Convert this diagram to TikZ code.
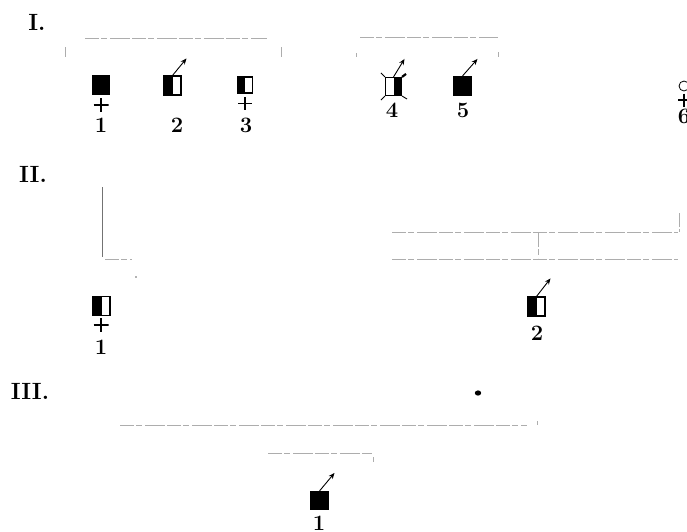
\documentclass[tikz,border=0pt]{standalone}
\usetikzlibrary{arrows.meta}
\begin{document}
\begin{tikzpicture}[x=1pt,y=-1pt,
  sqbox/.style={draw, line width=1.1pt, minimum width=17pt, minimum height=19pt, inner sep=0pt},
  full/.style={sqbox, fill=black},
  halfL/.style={sqbox, path picture={\fill[black] (path picture bounding box.south west) rectangle (path picture bounding box.north);}},
  halfR/.style={sqbox, path picture={\fill[black] (path picture bounding box.south east) rectangle (path picture bounding box.north);}},
  plus/.style={minimum width=15pt, minimum height=14pt, inner sep=0pt,
    path picture={\draw[line width=1.3pt] (path picture bounding box.west) -- (path picture bounding box.east)
      (path picture bounding box.north) -- (path picture bounding box.south);}},
  fem/.style={circle, draw, line width=0.8pt, minimum size=10pt, inner sep=0pt},
  num/.style={font=\fontsize{22}{22}\selectfont\bfseries, inner sep=0pt},
  gen/.style={font=\fontsize{23.5}{23.5}\selectfont\bfseries, inner sep=0pt},
  ln/.style={draw=black!32, line width=0.7pt, dash pattern=on 14pt off 2pt on 6pt off 3pt on 20pt off 2pt},
  arr/.style={-{Stealth[length=6pt,width=5pt]}, line width=0.9pt},
  whisk/.style={line width=0.9pt},
]
\useasboundingbox (0,0) rectangle (687,531);

% generation labels
\node[gen] (gI)   at (37,22)  {I.};
\node[gen] (gII)  at (33,174) {II.};
\node[gen] (gIII) at (30,391) {III.};

% ---------- generation I ----------
\draw[ln] (85,38) -- (267,38);
\draw[ln] (65,47) -- (65,57);
\draw[ln] (281,47) -- (281,57);
\draw[ln] (360,37) -- (498,37);
\draw[ln] (356,53) -- (356,57);
\draw[ln] (498,52) -- (498,57);

\node[full] (a1) at (101,85) {};
\node[plus] (a1p) at (101,105) {};
\node[num] (a1n) at (101,125) {1};

\node[halfL] (a2) at (172.5,85.5) {};
\draw[arr] (a2.north) -- ++(14,-17);
\node[num] (a2n) at (177,125) {2};

\node[halfL, minimum width=15.5pt, minimum height=16pt] (a3) at (245,85) {};
\node[plus, minimum width=14pt, minimum height=13pt] (a3p) at (245,103.5) {};
\node[num] (a3n) at (246,125) {3};

\node[halfR, minimum width=16pt, minimum height=18pt] (a4) at (393.5,86.5) {};
\draw[whisk] (a4.north west) -- ++(-4,-4);
\draw[whisk] (a4.south west) -- ++(-4,4);
\draw[whisk] (a4.south east) -- ++(5,3);
\draw[line width=2.2pt] (a4.north east) -- ++(4,-3);
\draw[arr] (a4.north) -- ++(11,-18);
\node[num] (a4n) at (392,110) {4};

\node[full] (a5) at (462.5,86) {};
\draw[arr] (a5.north) -- ++(15,-17);
\node[num] (a5n) at (463,110) {5};

\node[fem] (a6) at (684,86) {};
\node[plus, minimum width=12pt, minimum height=13pt] (a6p) at (684,100) {};
\node[num] (a6n) at (684,116) {6};

% ---------- generation II ----------
\draw[black!55, line width=0.8pt] (102,187) -- (102,257);
\draw[ln] (105,259) -- (132,259);
\fill[black!60] (136,277) circle (0.8);

\draw[ln] (392,232) -- (678,232);
\draw[ln] (679,213) -- (679,232);
\draw[ln] (538,233) -- (538,258);
\draw[ln] (392,259) -- (678,259);

\node[halfL] (b1) at (101.5,306) {};
\node[plus] (b1p) at (101,325) {};
\node[num] (b1n) at (101,347) {1};

\node[halfL] (b2) at (536.5,306.5) {};
\draw[arr] (b2.north) -- ++(14,-18);
\node[num] (b2n) at (537,333) {2};

% ---------- generation III ----------
\fill[black] (478,393) ellipse (3.2 and 2.6);
\draw[ln] (120,425) -- (527,425);
\draw[ln] (537,421) -- (537,425);
\draw[ln] (268,453) -- (372,453);
\draw[ln] (373,457) -- (373,462);

\node[full, minimum width=18pt, minimum height=18pt] (c1) at (319.5,500.5) {};
\draw[arr] (c1.north) -- ++(15,-18);
\node[num] (c1n) at (319,523) {1};
\end{tikzpicture}
\end{document}
